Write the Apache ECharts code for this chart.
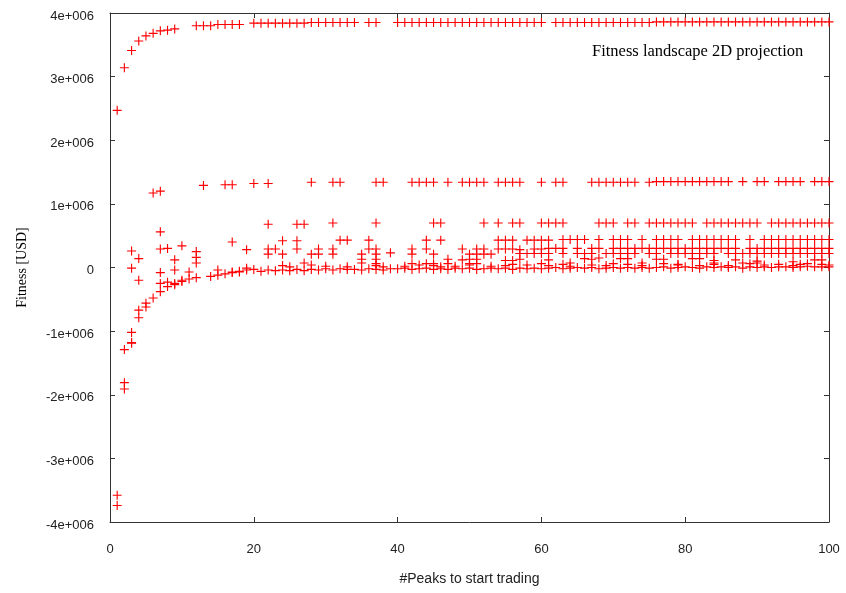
<!DOCTYPE html>
<html>
<head>
<meta charset="utf-8">
<script src="https://cdn.jsdelivr.net/npm/echarts@6/dist/echarts.min.js"></script>
<style>
  html, body { margin: 0; padding: 0; background: #fff; }
  #chart { width: 846px; height: 593px; }
</style>
</head>
<body>
<div id="chart"></div>
<script>
// Fitness (millions of USD) against the number of peaks needed to start trading.
// Each array is one horizontal family of runs; points are [peaks, fitness].

const xTicks = [0, 20, 40, 60, 80, 100];
const yTickLabels = ['-4e+006', '-3e+006', '-2e+006', '-1e+006', '0', '1e+006', '2e+006', '3e+006', '4e+006'];

const topFront = [
  [1, 2.47], [2, 3.14], [3, 3.41], [4, 3.56], [5, 3.64], [6, 3.68], [7, 3.72], [8, 3.73], [9, 3.75],
  [12, 3.80], [13, 3.80], [14, 3.80], [15, 3.82], [16, 3.82], [17, 3.82], [18, 3.82],
  [20, 3.84], [21, 3.84], [22, 3.84], [23, 3.84], [24, 3.84], [25, 3.84], [26, 3.84], [27, 3.84],
  [28, 3.85], [29, 3.85], [30, 3.85], [31, 3.85], [32, 3.85], [33, 3.85], [34, 3.85], [36, 3.85], [37, 3.85],
  [40, 3.85], [41, 3.85], [42, 3.85], [43, 3.85], [44, 3.85], [45, 3.85], [46, 3.85], [47, 3.85], [48, 3.85],
  [49, 3.85], [50, 3.85], [51, 3.85], [52, 3.85], [53, 3.85], [54, 3.85], [55, 3.85], [56, 3.85], [57, 3.85],
  [58, 3.85], [59, 3.85], [60, 3.85], [62, 3.85], [63, 3.85], [64, 3.85], [65, 3.85], [66, 3.85], [67, 3.85],
  [68, 3.85], [69, 3.85], [70, 3.85], [71, 3.85], [72, 3.85], [73, 3.85], [74, 3.85], [75, 3.85],
  [76, 3.86], [77, 3.86], [78, 3.86], [79, 3.86], [80, 3.86], [81, 3.86], [82, 3.86], [83, 3.86], [84, 3.86],
  [85, 3.86], [86, 3.86], [87, 3.86], [88, 3.86], [89, 3.86], [90, 3.86], [91, 3.86], [92, 3.86], [93, 3.86],
  [94, 3.86], [95, 3.86], [96, 3.86], [97, 3.86], [98, 3.86], [99, 3.86], [100, 3.86]
];

const band13 = [
  [6, 1.17], [7, 1.20], [13, 1.29], [16, 1.30], [17, 1.30], [20, 1.32], [22, 1.32], [28, 1.34], [31, 1.34],
  [32, 1.34], [37, 1.34], [38, 1.34], [42, 1.34], [43, 1.34], [44, 1.34], [45, 1.34], [47, 1.34], [49, 1.34],
  [50, 1.34], [51, 1.34], [52, 1.34], [54, 1.34], [55, 1.34], [56, 1.34], [57, 1.34], [60, 1.34], [62, 1.34],
  [63, 1.34], [67, 1.34], [68, 1.34], [69, 1.34], [70, 1.34], [71, 1.34], [72, 1.34], [73, 1.34], [75, 1.34],
  [76, 1.35], [77, 1.35], [78, 1.35], [79, 1.35], [80, 1.35], [81, 1.35], [82, 1.35], [83, 1.35], [84, 1.35],
  [85, 1.35], [86, 1.35], [88, 1.35], [90, 1.35], [91, 1.35], [93, 1.35], [94, 1.35], [95, 1.35], [96, 1.35],
  [98, 1.35], [99, 1.35], [100, 1.35]
];

const band07 = [
  [7, 0.56], [22, 0.68], [26, 0.68], [27, 0.68], [31, 0.70], [37, 0.70], [45, 0.70], [46, 0.70], [52, 0.70],
  [54, 0.70], [56, 0.70], [57, 0.70], [60, 0.70], [61, 0.70], [62, 0.70], [63, 0.70], [68, 0.70], [69, 0.70],
  [70, 0.70], [72, 0.70], [73, 0.70], [75, 0.70], [76, 0.70], [77, 0.70], [78, 0.70], [79, 0.70], [80, 0.70],
  [81, 0.70], [83, 0.70], [84, 0.70], [85, 0.70], [86, 0.70], [87, 0.70], [88, 0.70], [89, 0.70], [90, 0.70],
  [92, 0.70], [93, 0.70], [94, 0.70], [95, 0.70], [96, 0.70], [97, 0.70], [98, 0.70], [99, 0.70], [100, 0.70]
];

const band04 = [
  [10, 0.34], [17, 0.40], [24, 0.42], [26, 0.42], [32, 0.43], [33, 0.43], [36, 0.43], [44, 0.43], [46, 0.43],
  [54, 0.43], [55, 0.43], [56, 0.43], [58, 0.43], [59, 0.43], [60, 0.43], [61, 0.43], [63, 0.44], [64, 0.44],
  [65, 0.44], [66, 0.44], [68, 0.44], [70, 0.44], [71, 0.44], [72, 0.44], [74, 0.44], [76, 0.44], [77, 0.44],
  [78, 0.44], [79, 0.44], [81, 0.44], [82, 0.44], [83, 0.44], [84, 0.44], [85, 0.44], [86, 0.44], [87, 0.44],
  [89, 0.44], [91, 0.44], [92, 0.44], [93, 0.44], [94, 0.44], [95, 0.44], [96, 0.44], [97, 0.44], [98, 0.44],
  [99, 0.44], [100, 0.44]
];

const band03 = [
  [3, 0.26], [7, 0.29], [8, 0.30], [12, 0.25], [19, 0.28], [22, 0.29], [23, 0.29], [26, 0.29], [29, 0.29],
  [31, 0.29], [36, 0.29], [37, 0.29], [42, 0.29], [44, 0.29], [49, 0.29], [51, 0.29], [52, 0.29], [54, 0.29],
  [55, 0.29], [56, 0.29], [57, 0.28], [59, 0.29], [60, 0.29], [61, 0.30], [62, 0.30], [63, 0.30], [65, 0.30],
  [67, 0.30], [68, 0.30], [70, 0.30], [71, 0.30], [72, 0.30], [73, 0.30], [74, 0.30], [75, 0.30], [76, 0.30],
  [77, 0.30], [78, 0.30], [79, 0.30], [80, 0.30], [81, 0.30], [82, 0.30], [83, 0.30], [84, 0.30], [85, 0.30],
  [86, 0.30], [87, 0.30], [89, 0.30], [90, 0.30], [91, 0.30], [92, 0.30], [93, 0.30], [94, 0.30], [95, 0.30],
  [96, 0.30], [97, 0.30], [98, 0.30], [99, 0.30], [100, 0.30]
];

const band02 = [
  [4, 0.14], [9, 0.12], [12, 0.16], [22, 0.21], [24, 0.21], [28, 0.21], [29, 0.21], [31, 0.21], [35, 0.21],
  [37, 0.21], [39, 0.23], [42, 0.21], [45, 0.21], [50, 0.21], [51, 0.21], [52, 0.21], [53, 0.21], [57, 0.22],
  [58, 0.22], [59, 0.22], [60, 0.22], [61, 0.22], [63, 0.22], [65, 0.22], [66, 0.22], [67, 0.22], [69, 0.22],
  [70, 0.22], [71, 0.22], [72, 0.22], [73, 0.22], [75, 0.22], [76, 0.22], [78, 0.22], [79, 0.22], [80, 0.22],
  [81, 0.22], [82, 0.22], [83, 0.22], [84, 0.22], [86, 0.22], [87, 0.22], [88, 0.22], [89, 0.22], [90, 0.22],
  [91, 0.22], [92, 0.22], [93, 0.22], [94, 0.22], [95, 0.22], [96, 0.22], [97, 0.22], [98, 0.22], [99, 0.22],
  [100, 0.22]
];

const band01 = [
  [12, 0.07], [27, 0.07], [35, 0.13], [35, 0.07], [37, 0.13], [37, 0.06], [42, 0.06], [44, 0.06], [45, 0.06],
  [47, 0.13], [47, 0.06], [49, 0.12], [50, 0.13], [50, 0.06], [51, 0.13], [51, 0.06], [55, 0.11], [56, 0.11],
  [56, 0.05], [57, 0.13], [60, 0.06], [61, 0.12], [64, 0.07], [66, 0.14], [67, 0.13], [68, 0.15], [70, 0.06],
  [71, 0.14], [72, 0.14], [74, 0.07], [76, 0.13], [77, 0.13], [79, 0.05], [81, 0.14], [82, 0.14], [84, 0.11],
  [84, 0.07], [87, 0.12], [88, 0.07], [90, 0.10], [90, 0.07], [95, 0.09], [96, 0.05], [98, 0.12], [99, 0.12]
];

const zeroBand = [
  [3, -0.01], [7, -0.08], [9, -0.04], [11, -0.07], [15, -0.04], [17, -0.07], [18, -0.07], [19, -0.01],
  [20, -0.03], [21, -0.06], [22, -0.04], [23, -0.05], [24, -0.04], [25, -0.05], [26, -0.03], [27, -0.05],
  [28, -0.03], [29, -0.04], [30, -0.02], [31, -0.04], [32, -0.02], [33, -0.03], [34, -0.03], [35, -0.04],
  [36, -0.02], [37, -0.03], [38, -0.04], [39, -0.02], [40, -0.02], [41, -0.01], [42, -0.03], [43, -0.02],
  [44, -0.01], [45, -0.03], [46, -0.02], [47, -0.03], [48, -0.01], [49, -0.02], [50, -0.01], [51, -0.03],
  [52, -0.02], [53, -0.01], [54, -0.02], [55, -0.01], [56, -0.03], [57, -0.01], [58, -0.02], [59, -0.01],
  [60, -0.02], [61, -0.01], [62, 0.00], [63, -0.02], [64, -0.01], [65, 0.00], [66, -0.01], [67, 0.00],
  [68, -0.02], [69, -0.01], [70, 0.00], [71, -0.01], [72, 0.00], [73, -0.01], [74, 0.00], [75, -0.01],
  [76, 0.00], [77, 0.01], [78, -0.01], [79, 0.00], [80, 0.01], [81, 0.00], [82, -0.01], [83, 0.01],
  [84, 0.00], [85, 0.01], [86, 0.00], [87, 0.01], [88, -0.01], [89, 0.01], [90, 0.00], [91, 0.01],
  [92, 0.00], [93, 0.01], [94, 0.01], [95, 0.00], [96, 0.01], [97, 0.02], [98, 0.01], [99, 0.01], [100, 0.01],
  [24, 0.03], [25, 0.01], [28, 0.04], [30, 0.02], [33, 0.01], [37, 0.03], [38, 0.01], [41, 0.02], [43, 0.04],
  [45, 0.03], [46, 0.01], [48, 0.02], [50, 0.04], [53, 0.02], [55, 0.03], [58, 0.04], [61, 0.03], [63, 0.05],
  [64, 0.02], [67, 0.04], [69, 0.03], [72, 0.05], [74, 0.03], [77, 0.06], [79, 0.04], [82, 0.03], [84, 0.05],
  [86, 0.03], [89, 0.06], [91, 0.04], [93, 0.05], [95, 0.03], [97, 0.06], [99, 0.05], [100, 0.04]
];

const lowerFront = [
  [1, -3.58], [1, -3.74], [2, -1.29], [2, -1.81], [2, -1.91], [3, -1.02], [3, -1.18], [3, -1.19],
  [4, -0.20], [4, -0.67], [4, -0.79], [5, -0.56], [5, -0.62], [6, -0.48], [7, -0.38], [7, -0.25],
  [8, -0.30], [8, -0.23], [9, -0.25], [9, -0.27], [10, -0.20], [10, -0.22], [11, -0.18], [12, -0.16],
  [14, -0.14], [15, -0.12], [16, -0.10], [17, -0.08], [18, -0.06], [19, -0.04]
];

const families = [topFront, band13, band07, band04, band03, band02, band01, zeroBand, lowerFront];

// gnuplot style "+" point
const plusSymbol = 'path://M3.5,0H4.5V3.5H8V4.5H4.5V8H3.5V4.5H0V3.5H3.5Z';

const borderColor = '#333';
const sansFont = '"Liberation Sans", Arial, sans-serif';
const serifFont = '"Liberation Serif", "Times New Roman", serif';

const chart = echarts.init(document.getElementById('chart'), null, { renderer: 'canvas' });

const baseX = {
  type: 'value', min: 0, max: 100, interval: 20,
  axisLine: { show: true, onZero: false, lineStyle: { color: borderColor, width: 1 } },
  axisTick: { show: true, inside: true, length: 5, lineStyle: { color: borderColor } },
  splitLine: { show: false }
};
const baseY = {
  type: 'value', min: -4, max: 4, interval: 1,
  axisLine: { show: true, onZero: false, lineStyle: { color: borderColor, width: 1 } },
  axisTick: { show: true, inside: true, length: 5, lineStyle: { color: borderColor } },
  splitLine: { show: false }
};

chart.setOption({
  animation: false,
  backgroundColor: '#fff',
  title: {
    text: 'Fitness landscape 2D projection',
    left: 592, top: 43, padding: 0,
    textStyle: { fontFamily: serifFont, fontSize: 16.5, fontWeight: 'normal', color: '#000' }
  },
  grid: { left: 110, right: 17, top: 13, bottom: 71 },
  xAxis: [
    Object.assign({}, baseX, {
      position: 'bottom',
      name: '#Peaks to start trading', nameLocation: 'middle', nameGap: 50,
      nameTextStyle: { fontFamily: sansFont, fontSize: 14, color: '#222' },
      axisLabel: { margin: 21, fontFamily: sansFont, fontSize: 13, color: '#222',
        formatter: v => (xTicks.indexOf(v) >= 0 ? String(v) : '') }
    }),
    Object.assign({}, baseX, { position: 'top', axisLabel: { show: false } })
  ],
  yAxis: [
    Object.assign({}, baseY, {
      position: 'left',
      name: 'Fitness [USD]', nameLocation: 'middle', nameGap: 81, nameRotate: 90,
      nameTextStyle: { fontFamily: serifFont, fontSize: 14, color: '#000' },
      axisLabel: { margin: 16, verticalAlign: 'top', lineHeight: 6, fontFamily: sansFont, fontSize: 13, color: '#222',
        formatter: v => yTickLabels[Math.round(v) + 4] }
    }),
    Object.assign({}, baseY, { position: 'right', axisLabel: { show: false } })
  ],
  series: families.map(data => ({
    type: 'scatter',
    xAxisIndex: 0, yAxisIndex: 0,
    data: data,
    symbol: plusSymbol,
    symbolSize: 9,
    clip: false,
    itemStyle: { color: '#ff0000', opacity: 1 },
    emphasis: { disabled: true }
  }))
});
</script>
</body>
</html>
